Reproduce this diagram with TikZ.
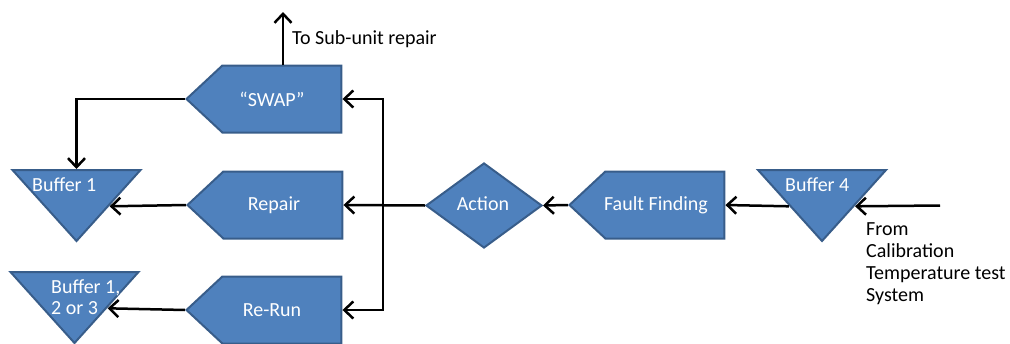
\documentclass[tikz,border=0pt]{standalone}
\usepackage{fontspec}
\setmainfont{Carlito}
\usetikzlibrary{arrows.meta,calc,shapes.geometric,shapes.symbols}
\definecolor{boxblue}{HTML}{4F81BD}
\definecolor{edgeblue}{HTML}{385D8A}
\tikzset{
  flow/.style={-{Straight Barb[length=9pt,width=17pt]},line width=2.5pt,draw=black},
  base/.style={draw=edgeblue,line width=2pt,fill=boxblue,inner sep=0pt},
  task/.style={base,signal,signal to=west,signal from=nowhere,signal pointer angle=86,
               minimum width=155pt,minimum height=67pt},
  buffer/.style={base,isosceles triangle,isosceles triangle stretches,shape border rotate=-90,
                 minimum width=128pt,minimum height=71pt},
  choice/.style={base,diamond,minimum width=116pt,minimum height=85pt},
  label/.style={font=\fontsize{20}{21}\selectfont,text=white,inner sep=0pt,align=left},
  note/.style={font=\fontsize{20}{22}\selectfont,text=black,inner sep=0pt,align=left}
}
\begin{document}
\begin{tikzpicture}[x=1pt,y=-1pt]
  \useasboundingbox (0,0) rectangle (1010,343);
  % shapes
  \node[task,anchor=west] (swap) at (185,99) {};
  \node[task,anchor=west] (repair) at (186,205) {};
  \node[task,anchor=west] (rerun) at (185,310) {};
  \node[task,anchor=west] (fault) at (568,205) {};
  \node[choice] (action) at (484,205.5) {};
  \node[buffer,anchor=north] (buf1) at (76.5,169) {};
  \node[buffer,anchor=north] (buf2) at (74.5,271) {};
  \node[buffer,anchor=north] (buf4) at (822,169) {};
  % texts
  \node[label] (swaptxt) at ($(swap.west)+(87,0)$) {“SWAP”};
  \node[label] (repairtxt) at ($(repair.west)+(88,0)$) {Repair};
  \node[label] (reruntxt) at ($(rerun.west)+(87,0)$) {Re-Run};
  \node[label] (faulttxt) at ($(fault.west)+(88,0)$) {Fault Finding};
  \node[label] (actiontxt) at (483,204) {Action};
  \node[label,anchor=base west] (buf1txt) at (32,191) {Buffer 1};
  \node[label,anchor=north west] (buf2txt) at (51,279) {Buffer 1,\\2 or 3};
  \node[label,anchor=base west] (buf4txt) at (785,191) {Buffer 4};
  \node[note,anchor=base west] (subtxt) at (292,44) {To Sub-unit repair};
  \node[note,anchor=north west] (fromtxt) at (866,222) {From\\Calibration\\Temperature test\\System};
  % connectors
  \coordinate (subunit) at (283,12);
  \coordinate (bus) at (383,205);
  \coordinate (calib) at (940,205.5);
  \draw[flow] (swap.north -| subunit) -- (subunit);
  \draw[flow] (swap.west) -| (buf1.north);
  \draw[flow] (repair.west) -- (buf1.left side);
  \draw[flow] (rerun.west) -- (buf2.left side);
  \draw[flow] (action.west) -- (repair.east);
  \draw[flow] (bus) |- (swap.east);
  \draw[flow] (bus) |- (rerun.east);
  \draw[flow] (fault.west) -- (action.east);
  \draw[flow] (buf4.right side) -- (fault.east);
  \draw[flow] (calib) -- (buf4.left side);
\end{tikzpicture}
\end{document}
